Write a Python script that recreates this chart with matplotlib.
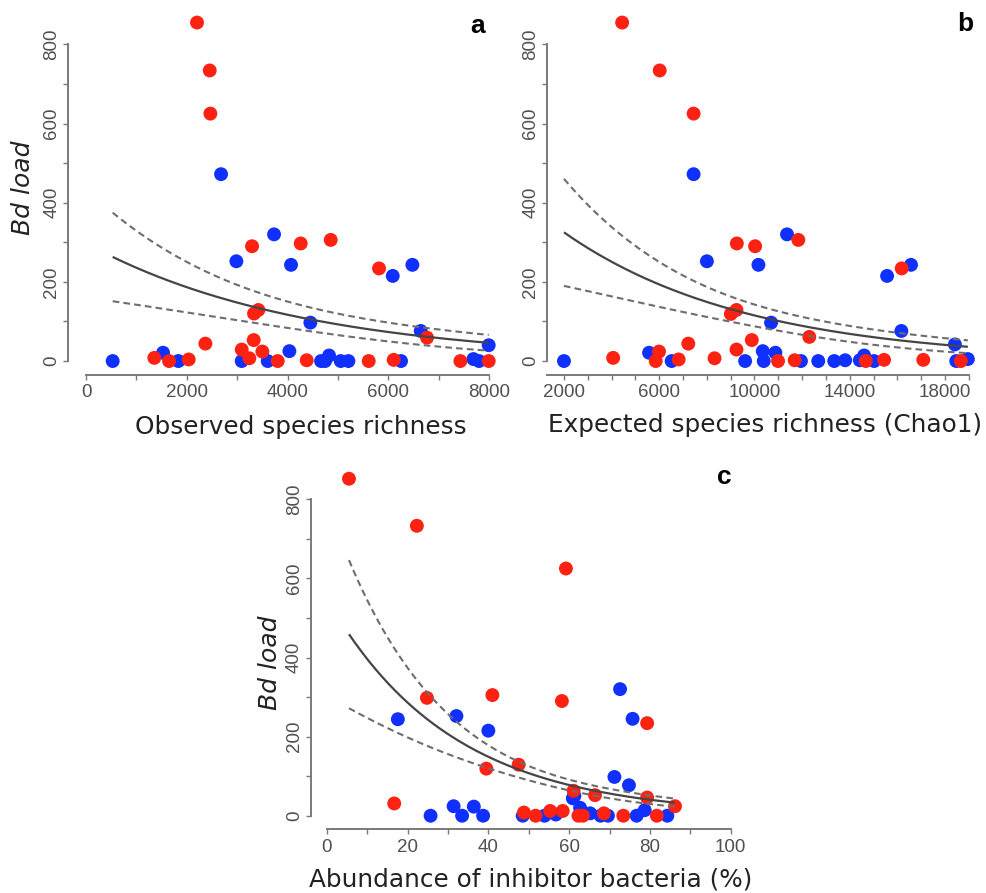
import numpy as np
import matplotlib
matplotlib.use("Agg")
import matplotlib.pyplot as plt

# ---------------- data ----------------
# Panel a: observed species richness vs Bd load
a_red_x = [2203, 2455, 2468, 3295, 4261, 4857, 5816, 3335, 3421, 2369, 3328, 3090,
           3500, 3242, 1356, 1648, 2038, 3805, 4380, 5611, 6107, 6769, 7431, 7993]
a_red_y = [855, 734, 625, 290, 297, 306, 234, 120, 129, 44, 53, 29,
           24, 7, 8, 0, 4, 0, 2, 0, 3, 59, 0, 0]
a_blue_x = [529, 1529, 1833, 2680, 2984, 3732, 4069, 3090, 3606, 4036, 4453, 4665,
            4745, 4824, 5055, 5208, 6088, 6478, 6253, 6643, 7689, 7801, 7993]
a_blue_y = [0, 21, 0, 472, 252, 320, 243, 0, 0, 25, 97, 0,
            0, 14, 0, 0, 215, 243, 0, 76, 5, 0, 40]

# Panel b: expected species richness (Chao1) vs Bd load
b_red_x = [4443, 6020, 7444, 9259, 10027, 11842, 16183, 9008, 9245, 7221, 9887, 9245,
           5993, 5853, 4066, 6816, 8324, 10990, 11688, 12302, 14676, 15443, 17090, 18668]
b_red_y = [855, 734, 625, 297, 290, 306, 234, 119, 129, 44, 53, 29,
           24, 0, 8, 4, 7, 0, 2, 61, 0, 3, 3, 0]
b_blue_x = [2000, 5574, 6523, 7444, 8003, 11367, 10167, 9608, 10348, 10879, 10390, 10697,
            11953, 12679, 13349, 13810, 14424, 14606, 15024, 15569, 16574, 16169, 18417,
            18473, 18961]
b_blue_y = [0, 21, 0, 472, 252, 320, 243, 0, 25, 21, 0, 97,
            0, 0, 0, 2, 2, 14, 0, 215, 243, 76, 42, 0, 5]

# Panel c: abundance of inhibitor bacteria (%) vs Bd load
c_red_x = [5.5, 22.3, 59.2, 24.8, 41.0, 58.2, 79.3, 47.5, 39.5, 16.7, 61.1, 66.4,
           79.3, 86.2, 48.8, 51.7, 55.3, 58.4, 62.3, 63.4, 68.6, 73.4, 81.7]
c_red_y = [852, 733, 625, 298, 305, 290, 234, 129, 119, 31, 63, 52,
           46, 24, 8, 0, 12, 12, 0, 0, 6, 0, 0]
c_blue_x = [17.6, 32.1, 40.0, 72.6, 75.7, 71.2, 74.8, 25.7, 31.4, 33.5, 36.4, 38.7,
            48.5, 53.9, 56.7, 60.9, 61.3, 62.7, 65.2, 67.8, 69.6, 76.7, 78.7, 84.3]
c_blue_y = [244, 252, 215, 320, 245, 98, 77, 0, 24, 0, 23, 0,
            0, 0, 3, 44, 50, 20, 6, 0, 0, 0, 14, 0]

# fitted model (log link): intercept, slope, x-range, SE parameters (s0, s1, x_mean)
a_fit = dict(b0=5.6955, b1=-2.335e-4, xmin=529, xmax=7993, s0=0.145, s1=4.4e-5, xm=4200)
b_fit = dict(b0=6.0434, b1=-1.297e-4, xmin=2000, xmax=18961, s0=0.122, s1=2.17e-5, xm=10000)
c_fit = dict(b0=6.3084, b1=-0.03262, xmin=5.5, xmax=86.2, s0=0.085, s1=0.0040, xm=53)

x_labels = ["Observed species richness", "Expected species richness (Chao1)",
            "Abundance of inhibitor bacteria (%)"]
y_label = "Bd load"
panel_letters = ["a", "b", "c"]

RED = "#FF2212"
BLUE = "#1030FF"
AXCOL = "#7a7a7a"
TICKLAB = "#505050"

W, H = 987, 893
fig = plt.figure(figsize=(W / 100, H / 100), dpi=100)


def add_axes_px(left, bottom_px, width, height):
    return fig.add_axes([left / W, (H - bottom_px) / H, width / W, height / H])


def style_axes(ax, xlim, ylim, xbounds, xticks_major, xticks_minor, xticklabels):
    ax.set_xlim(*xlim)
    ax.set_ylim(*ylim)
    for s in ["top", "right"]:
        ax.spines[s].set_visible(False)
    ax.spines["left"].set_bounds(0, 800)
    ax.spines["bottom"].set_bounds(*xbounds)
    for s in ["left", "bottom"]:
        ax.spines[s].set_color(AXCOL)
        ax.spines[s].set_linewidth(1.4)
    ax.set_yticks([0, 200, 400, 600, 800])
    ax.set_yticks([100, 300, 500, 700], minor=True)
    ax.set_xticks(xticks_major)
    ax.set_xticklabels(xticklabels)
    ax.set_xticks(xticks_minor, minor=True)
    ax.tick_params(axis="both", which="both", direction="out", length=3.5, width=1.0,
                   color=AXCOL, labelcolor=TICKLAB, labelsize=13.5)
    ax.tick_params(axis="y", pad=2.2)
    ax.tick_params(axis="x", pad=3.5)
    for lab in ax.get_yticklabels():
        lab.set_rotation(90)
        lab.set_rotation_mode("anchor")
        lab.set_ha("center")
        lab.set_va("bottom")
    for lab in ax.get_yticklabels() + ax.get_xticklabels():
        lab.set_family("Liberation Sans")
    ax.patch.set_alpha(0)


def draw_fit(ax, f):
    x = np.linspace(f["xmin"], f["xmax"], 200)
    mu = np.exp(f["b0"] + f["b1"] * x)
    se = np.sqrt(f["s0"] ** 2 + (f["s1"] * (x - f["xm"])) ** 2)
    d = 1.96 * mu * se
    ax.plot(x, mu, color="#454545", lw=1.6, zorder=4, solid_capstyle="butt")
    ax.plot(x, mu + d, color="#6e6e6e", lw=1.5, ls=(0, (3.2, 2.0)), zorder=4)
    ax.plot(x, mu - d, color="#6e6e6e", lw=1.5, ls=(0, (3.2, 2.0)), zorder=4)


def draw_points(ax, rx, ry, bx, by):
    ax.scatter(bx, by, s=100, color=BLUE, edgecolors="none", zorder=3, clip_on=False)
    ax.scatter(rx, ry, s=100, color=RED, edgecolors="none", zorder=3, clip_on=False)


# Panel a
ax_a = add_axes_px(68.4, 374.5, 438.3, 365.8)
style_axes(ax_a, (-350, 8350), (-34, 890), (0, 8000),
           [0, 2000, 4000, 6000, 8000], np.arange(0, 8001, 1000),
           ["0", "2000", "4000", "6000", "8000"])
draw_points(ax_a, a_red_x, a_red_y, a_blue_x, a_blue_y)
draw_fit(ax_a, a_fit)

# Panel b
ax_b = add_axes_px(547.3, 374.5, 431.0, 365.8)
style_axes(ax_b, (1300, 19400), (-34, 890), (1300, 19000),
           [2000, 6000, 10000, 14000, 18000], np.arange(2000, 19001, 1000),
           ["2000", "6000", "10000", "14000", "18000"])
draw_points(ax_b, b_red_x, b_red_y, b_blue_x, b_blue_y)
draw_fit(ax_b, b_fit)

# Panel c
ax_c = add_axes_px(311.0, 829.0, 444.0, 365.3)
style_axes(ax_c, (-3.9, 106), (-33.6, 890), (0, 100),
           [0, 20, 40, 60, 80, 100], np.arange(0, 101, 10),
           ["0", "20", "40", "60", "80", "100"])
draw_points(ax_c, c_red_x, c_red_y, c_blue_x, c_blue_y)
draw_fit(ax_c, c_fit)

# labels
lab_kw = dict(fontsize=17.8, color="#222222", family="DejaVu Sans", ha="center", va="center")
fig.text(301 / W, 1 - 427 / H, x_labels[0], **lab_kw)
fig.text(765 / W, 1 - 425 / H, x_labels[1], **lab_kw)
fig.text(531 / W, 1 - 880 / H, x_labels[2], **lab_kw)

ylab_kw = dict(fontsize=18, color="#222222", family="DejaVu Sans", style="italic",
               rotation=90, ha="center", va="center")
fig.text(23 / W, 1 - 188 / H, y_label, **ylab_kw)
fig.text(270 / W, 1 - 663 / H, y_label, **ylab_kw)

let_kw = dict(fontsize=19, fontweight="bold", color="black", family="Liberation Sans",
              ha="center", va="center")
fig.text(478 / W, 1 - 26 / H, panel_letters[0], **let_kw)
fig.text(965 / W, 1 - 24 / H, panel_letters[1], **let_kw)
fig.text(724 / W, 1 - 477 / H, panel_letters[2], **let_kw)

fig.savefig("out.png", dpi=100)
